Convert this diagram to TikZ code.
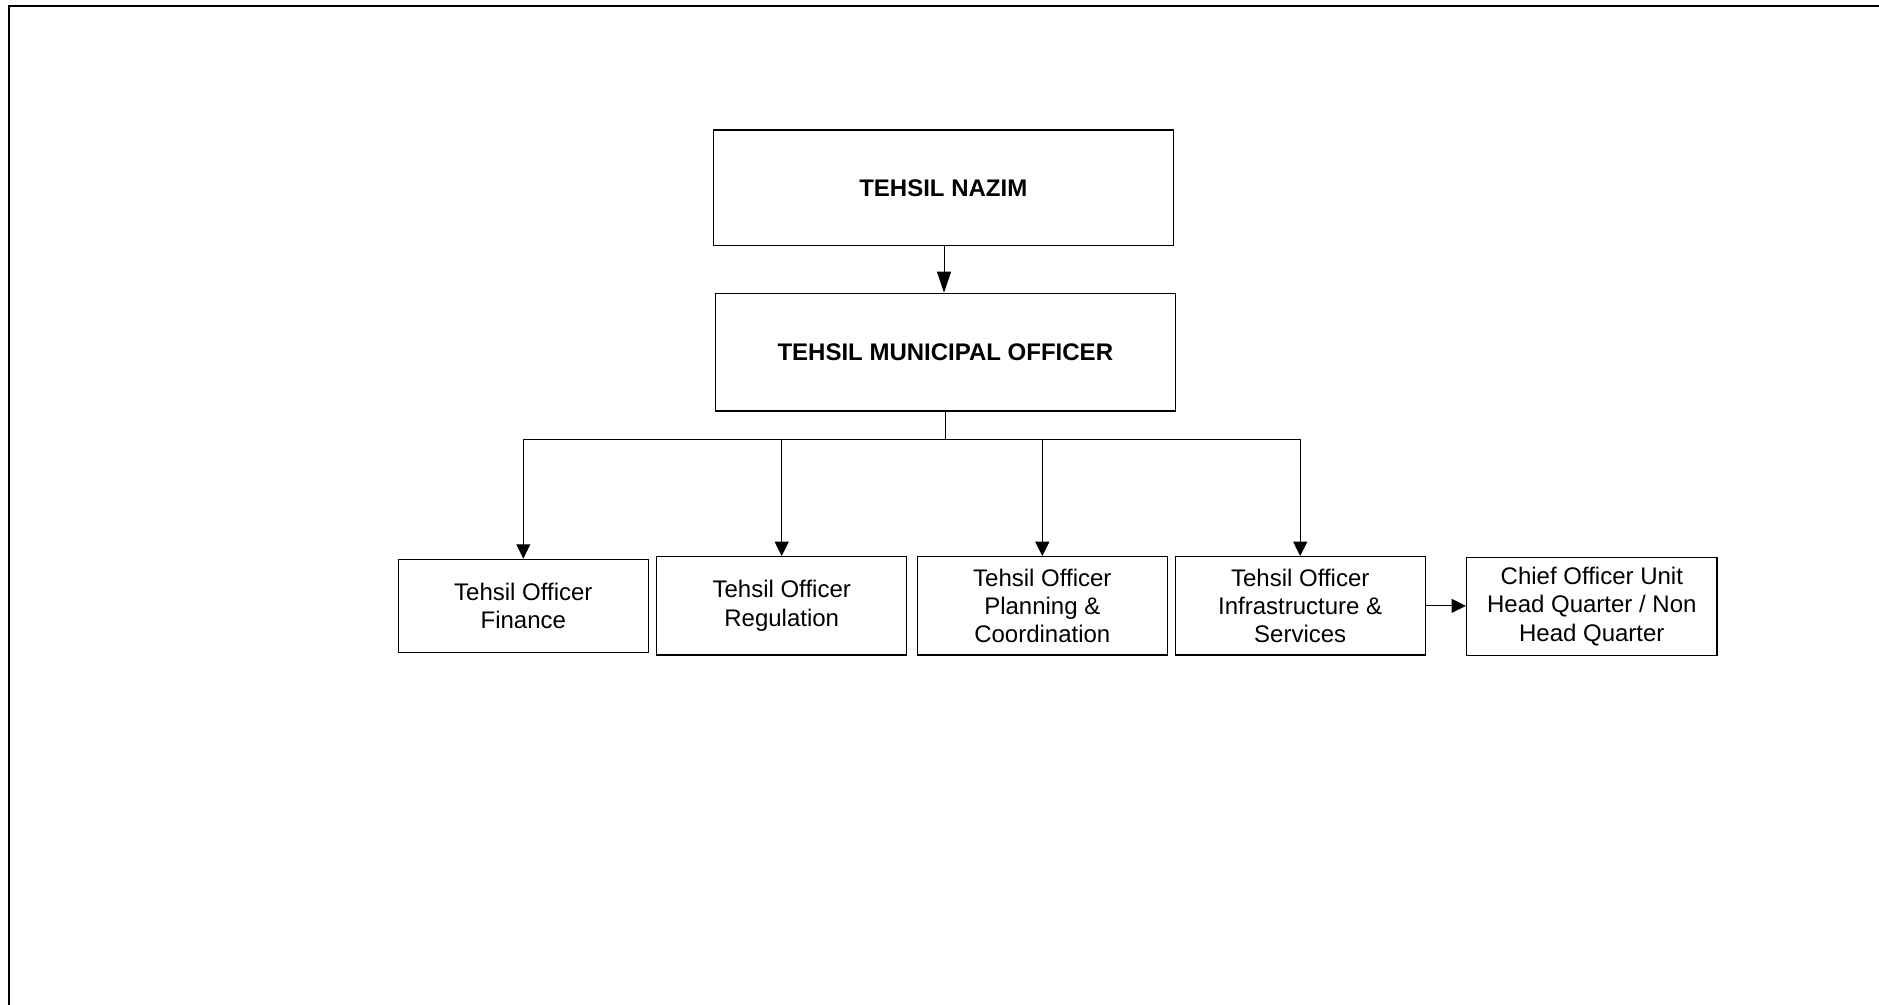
\documentclass[tikz,border=0pt]{standalone}
\usepackage{fontspec}
\setmainfont{Liberation Sans}
\usetikzlibrary{arrows.meta}
\tikzset{
  box/.style={draw=black, line width=0.65pt, inner sep=0pt, align=center,
    font=\fontsize{12}{14.2}\selectfont},
  bigbox/.style={box, minimum width=230pt, font=\bfseries\fontsize{12}{14.2}\selectfont},
  smallbox/.style={box, minimum width=125pt, minimum height=49.15pt},
  conn/.style={draw=black, line width=0.5pt, -{Triangle[length=7.2pt,width=7pt]}},
  longconn/.style={draw=black, line width=0.5pt, -{Triangle[length=10.5pt,width=7pt]}},
  plainline/.style={draw=black, line width=0.5pt},
  frame/.style={draw=black, line width=1pt}
}
\begin{document}
\begin{tikzpicture}[x=0.5pt, y=-0.5pt]
\useasboundingbox (0,0) rectangle (1879,1005);
\draw[frame] (9,1006) -- (9,6) -- (1880,6);

\node[bigbox, minimum height=57.85pt] (nazim) at (943.3,187.9) {TEHSIL NAZIM};
\node[bigbox, minimum height=58.85pt] (muni) at (945.3,352.2) {TEHSIL MUNICIPAL OFFICER};

\node[smallbox, minimum height=46.5pt] (fin) at (523.3,605.8) {Tehsil Officer\\Finance};
\node[smallbox] (reg) at (781.7,605.85) {Tehsil Officer\\Regulation};
\node[smallbox] (plan) at (1042.3,605.85) {Tehsil Officer\\Planning \&\\Coordination};
\node[smallbox] (infra) at (1300.2,605.85) {Tehsil Officer\\Infrastructure \&\\Services};
\node[smallbox, minimum width=125.2pt, minimum height=48.8pt] (chief) at (1591.8,606.5) {Chief Officer Unit\\Head Quarter / Non\\Head Quarter};

\coordinate (bus) at (945,440);
\draw[longconn] (nazim.south -| 944,0) -- (muni.north -| 944,0);
\draw[plainline] (muni.south -| bus) -- (bus);
\draw[conn] (bus) -| (fin.north);
\draw[conn] (bus) -| (reg.north);
\draw[conn] (bus) -| (plan.north);
\draw[conn] (bus) -| (infra.north);
\draw[conn] (infra.east) -- (chief.west |- infra.east);
\end{tikzpicture}
\end{document}
